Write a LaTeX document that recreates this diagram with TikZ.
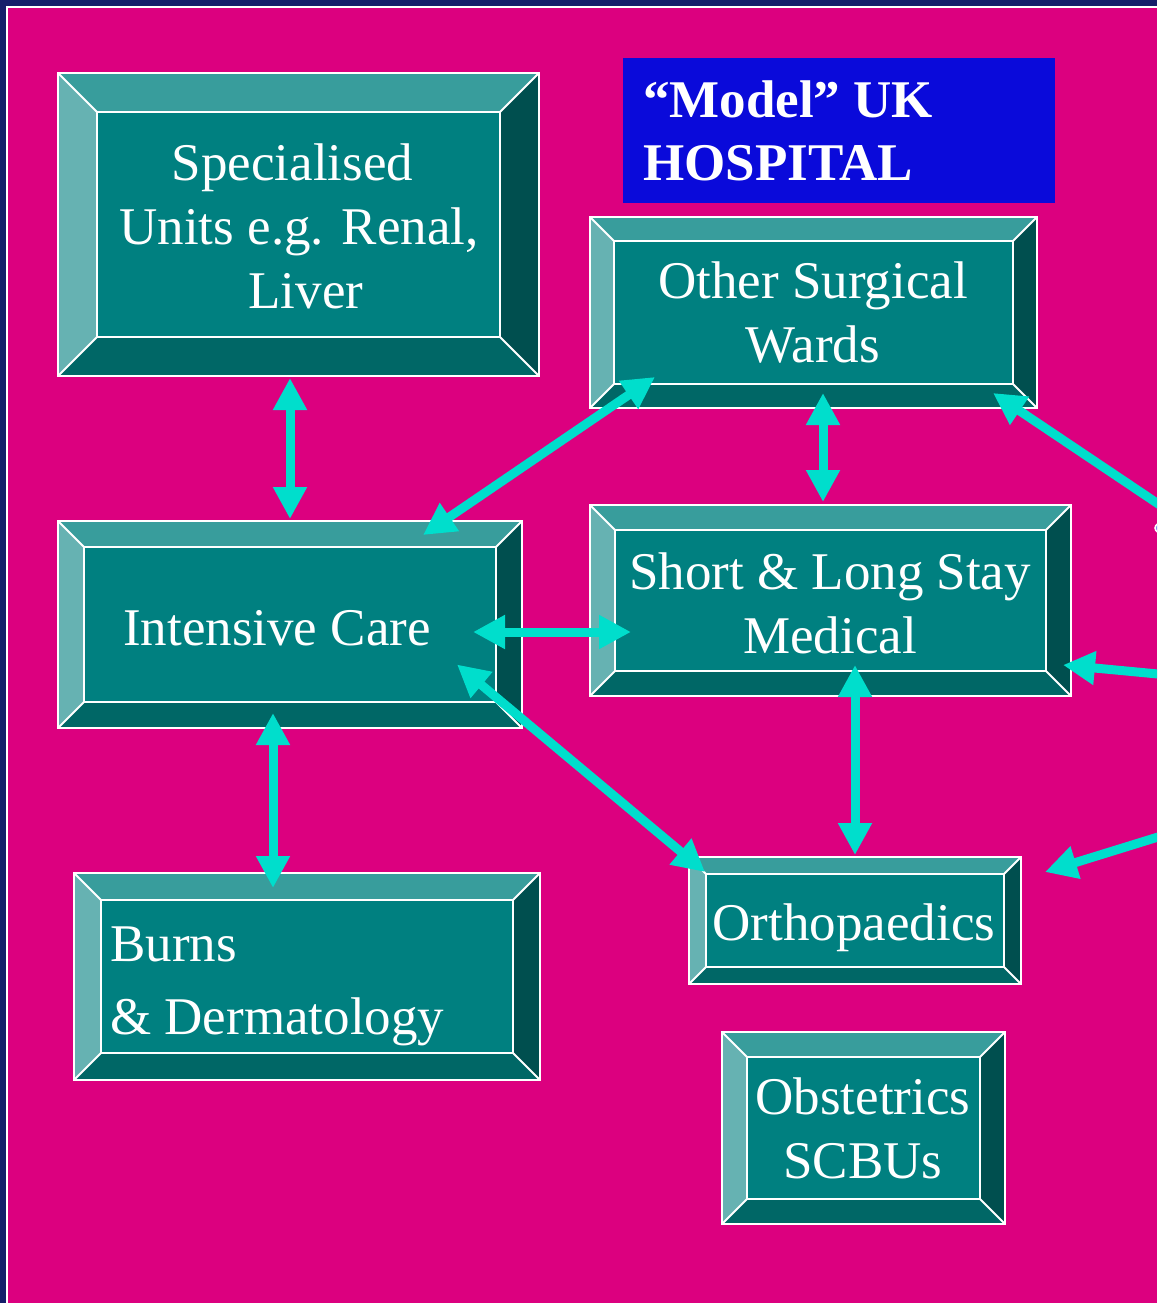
\documentclass[tikz,border=0pt]{standalone}
\usepackage{fontspec}
\setmainfont{Liberation Serif}
\usepackage{tikz}
\usetikzlibrary{arrows.meta,calc}
\usepackage{xcolor}
\definecolor{SlideNavy}{RGB}{22,30,106}
\definecolor{SlideMagenta}{RGB}{220,0,127}
\definecolor{TitleBlue}{RGB}{10,10,218}
\definecolor{WardFace}{RGB}{0,128,128}
\definecolor{WardTop}{RGB}{56,157,156}
\definecolor{WardLeft}{RGB}{102,178,178}
\definecolor{WardRight}{RGB}{0,79,79}
\definecolor{WardBottom}{RGB}{0,103,102}
\definecolor{LinkCyan}{RGB}{0,222,204}
\tikzset{
	ward/.style={fill=WardFace, inner sep=0pt, outer sep=0pt},
	ward text/.style={text=white, font=\fontsize{53}{64}\selectfont, align=center, inner sep=0pt},
	bevel line/.style={draw=white, line width=2pt},
	link/.style={draw=LinkCyan, line width=9pt, {Triangle[length=32pt,width=32pt]}-{Triangle[length=32pt,width=32pt]}},
	link in/.style={draw=LinkCyan, line width=9pt, -{Triangle[length=32pt,width=32pt]}}
}
\newcommand{\bevelBox}[2]{
	%bevelled frame round node #1, bevel width #2:
	\fill[WardTop] (#1.north west) -- (#1.north east) -- ($ (#1.north east) + (-#2,#2) $) -- ($ (#1.north west) + (#2,#2) $) -- cycle;
	\fill[WardLeft] (#1.north west) -- ($ (#1.north west) + (#2,#2) $) -- ($ (#1.south west) + (#2,-#2) $) -- (#1.south west) -- cycle;
	\fill[WardRight] (#1.north east) -- ($ (#1.north east) + (-#2,#2) $) -- ($ (#1.south east) + (-#2,-#2) $) -- (#1.south east) -- cycle;
	\fill[WardBottom] (#1.south west) -- ($ (#1.south west) + (#2,-#2) $) -- ($ (#1.south east) + (-#2,-#2) $) -- (#1.south east) -- cycle;
	\draw[bevel line] ($ (#1.north west) + (#2,#2) $) rectangle ($ (#1.south east) + (-#2,-#2) $);
	\draw[bevel line] (#1.north west) -- ++(#2,#2);
	\draw[bevel line] (#1.north east) -- ++(-#2,#2);
	\draw[bevel line] (#1.south west) -- ++(#2,-#2);
	\draw[bevel line] (#1.south east) -- ++(-#2,-#2);
	\draw[bevel line] (#1.north west) rectangle (#1.south east);
}
\begin{document}
\begin{tikzpicture}[x=1pt, y=-1pt]
	\useasboundingbox (0,0) rectangle (1157,1303);
	\clip (0,0) rectangle (1157,1303);
%
	%slide background
	\fill[SlideNavy] (0,0) rectangle (1157,1303);
	\fill[SlideMagenta] (8,8) rectangle (1157,1303);
	\draw[white, line width=2pt] (7.3,1310) -- (7.3,7.3) -- (1170,7.3);
%
	%title
	\node[fill=TitleBlue, minimum width=432pt, minimum height=145pt, inner sep=0pt] (titleBox) at (839,130.5) {};
	\node[ward text, align=left, anchor=west, font=\fontsize{53}{63}\selectfont\bfseries] (titleText) at (643,131) {“Model” UK\\HOSPITAL};
%
	%wards
	\node[ward, minimum width=481pt, minimum height=303pt] (specUnit) at (298.5,224.5) {};
	\node[ward, minimum width=447pt, minimum height=191pt] (otherSurg) at (813.5,312.5) {};
	\node[ward, minimum width=464pt, minimum height=207pt] (icu) at (290,624.5) {};
	\node[ward, minimum width=481pt, minimum height=191pt] (shortMed) at (830.5,600.5) {};
	\node[ward, minimum width=466pt, minimum height=207pt] (burns) at (307,976.5) {};
	\node[ward, minimum width=332pt, minimum height=127pt] (ortho) at (855,920.5) {};
	\node[ward, minimum width=283pt, minimum height=192pt] (obst) at (863.5,1128) {};
%
	\bevelBox{specUnit}{39}
	\bevelBox{otherSurg}{24}
	\bevelBox{icu}{26}
	\bevelBox{shortMed}{25}
	\bevelBox{burns}{27}
	\bevelBox{ortho}{17}
	\bevelBox{obst}{25}
%
	\node[ward text] (specText) at (299,226) {Specialised\hspace*{13pt}\\Units e.g. Renal,\\\hspace*{14pt}Liver};
	\node[ward text] (otherText) at (813,313) {Other Surgical\\Wards};
	\node[ward text, anchor=base] (icuText) at (277,645) {Intensive Care};
	\node[ward text] (shortText) at (830,603) {Short \& Long Stay\\Medical};
	\node[ward text, align=left, anchor=west] (burnsText) at (110,986) {Burns\\[9pt]\& Dermatology};
	\node[ward text, anchor=base] (orthoText) at (854,940) {Orthopaedics};
	\node[ward text] (obstText) at (863,1128) {Obstetrics\\SCBUs};
%
	%links between wards
	\draw[link] ($ (icu.north) + (0,-143) $) -- ($ (icu.north) + (0,-2) $);
	\draw[link] ($ (icu.north east) + (-99,14) $) -- ($ (otherSurg.south west) + (65,-31) $);
	\draw[link] ($ (otherSurg.south) + (9.5,-15) $) -- ($ (shortMed.north) + (-7.5,-3) $);
	\draw[link] ($ (icu.east) + (-49,7.5) $) -- ($ (shortMed.west) + (41,31.5) $);
	\draw[link] ($ (icu.east) + (-65,40) $) -- ($ (ortho.north west) + (16,15) $);
	\draw[link] ($ (shortMed.south) + (24.5,-31) $) -- ($ (ortho.north) + (0,-2) $);
	\draw[link] ($ (icu.south) + (-17,-15) $) -- ($ (burns.north) + (-34,15) $);
%
	%links from off the slide
	\coordinate (offA) at (1200,532);
	\coordinate (offB) at (1200,678);
	\coordinate (offC) at (1200,824);
	\draw[link in] (offA) -- ($ (otherSurg.south east) + (-44,-15) $);
	\draw[link in] (offB) -- ($ (shortMed.south east) + (-8,-31) $);
	\draw[link in] (offC) -- ($ (ortho.north east) + (24,15) $);
	\draw[white, line width=1.5pt, fill=TitleBlue!50] (1164,528) ellipse (9 and 6);
\end{tikzpicture}
\end{document}
